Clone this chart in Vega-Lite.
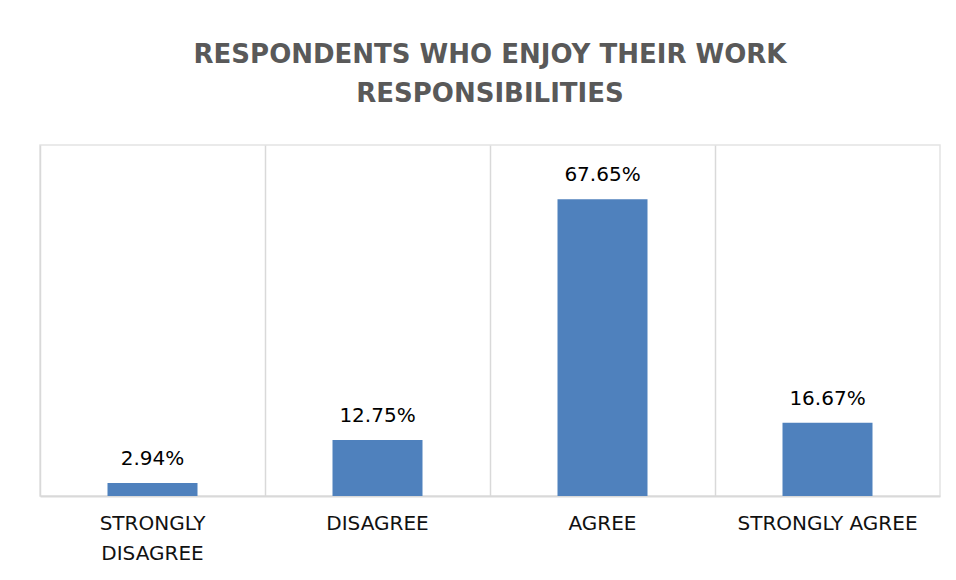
{
  "$schema": "https://vega.github.io/schema/vega-lite/v6.json",
  "autosize": "none",
  "width": 900,
  "height": 351,
  "padding": {"left": 40, "top": 145, "right": 16, "bottom": 84},
  "background": "white",
  "config": {"view": {"stroke": "#e4e4e4", "strokeWidth": 1.5}},
  "title": {
    "text": ["RESPONDENTS WHO ENJOY THEIR WORK", "RESPONSIBILITIES"],
    "font": "DejaVu Sans",
    "fontSize": 26,
    "fontWeight": "bold",
    "color": "#595959",
    "anchor": "middle",
    "lineHeight": 39,
    "offset": 38
  },
  "data": {
    "values": [
      {"category": "STRONGLY DISAGREE", "pct": 2.94, "label": "2.94%"},
      {"category": "DISAGREE", "pct": 12.75, "label": "12.75%"},
      {"category": "AGREE", "pct": 67.65, "label": "67.65%"},
      {"category": "STRONGLY AGREE", "pct": 16.67, "label": "16.67%"}
    ]
  },
  "encoding": {
    "x": {
      "field": "category",
      "type": "nominal",
      "sort": null,
      "scale": {"paddingInner": 0, "paddingOuter": 0},
      "axis": {
        "title": null,
        "labelAngle": 0,
        "labelFont": "DejaVu Sans",
        "labelFontSize": 20,
        "labelColor": "#111111",
        "labelPadding": 17,
        "labelLineHeight": 30,
        "labelLimit": 300,
        "labelExpr": "datum.label == 'STRONGLY DISAGREE' ? ['STRONGLY', 'DISAGREE'] : datum.label",
        "ticks": false,
        "grid": true,
        "bandPosition": 0,
        "gridColor": "#d9d9d9",
        "gridWidth": 1.5,
        "domainColor": "#d9d9d9",
        "domainWidth": 2
      }
    },
    "y": {
      "field": "pct",
      "type": "quantitative",
      "scale": {"domain": [0, 80]},
      "axis": null
    }
  },
  "layer": [
    {"mark": {"type": "bar", "color": "#4F81BD", "width": {"band": 0.4}}},
    {
      "mark": {
        "type": "text",
        "baseline": "alphabetic",
        "dy": -18,
        "font": "DejaVu Sans",
        "fontSize": 20,
        "color": "#000000"
      },
      "encoding": {"text": {"field": "label"}}
    }
  ]
}
